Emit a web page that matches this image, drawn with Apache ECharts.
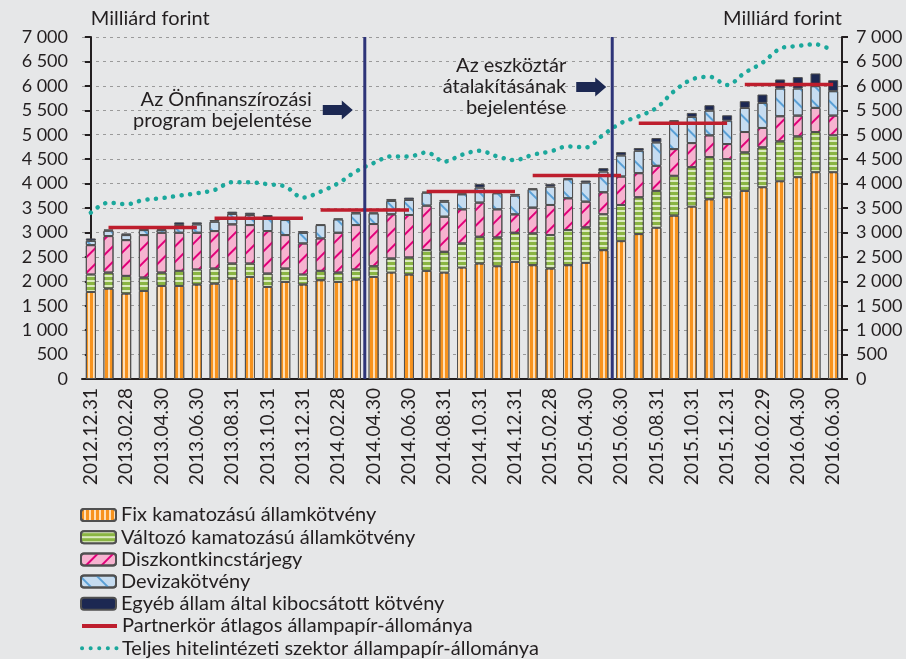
<!DOCTYPE html>
<html><head><meta charset="utf-8">
<script src="https://cdn.jsdelivr.net/npm/echarts@6/dist/echarts.min.js"></script>
<style>html,body{margin:0;padding:0;background:#e6e7e8;} #c{width:906px;height:659px;}</style>
</head><body><div id="c"></div>
<script>
// ---------- DATA ----------
const categories = ['2012.12.31','2013.01.31','2013.02.28','2013.03.31','2013.04.30','2013.05.31','2013.06.30','2013.07.31','2013.08.31','2013.09.30','2013.10.31','2013.11.30','2013.12.31','2014.01.31','2014.02.28','2014.03.31','2014.04.30','2014.05.31','2014.06.30','2014.07.31','2014.08.31','2014.09.30','2014.10.31','2014.11.30','2014.12.31','2015.01.31','2015.02.28','2015.03.31','2015.04.30','2015.05.31','2015.06.30','2015.07.31','2015.08.31','2015.09.30','2015.10.31','2015.11.30','2015.12.31','2016.01.31','2016.02.29','2016.03.31','2016.04.30','2016.05.31','2016.06.30'];
const fixRate    = [1781,1850,1747,1802,1904,1904,1932,1952,2055,2089,1884,1987,1932,2021,1987,2034,2089,2178,2137,2213,2178,2281,2363,2308,2397,2329,2260,2329,2377,2637,2822,2966,3096,3343,3528,3678,3720,3850,3925,4048,4131,4233,4233];
const floatRate  = [356,328,363,274,274,309,308,308,308,274,274,273,205,192,191,206,219,288,350,424,425,493,548,589,596,651,686,719,726,733,740,754,754,815,808,864,780,787,815,816,835,822,754];
const discount   = [603,747,733,870,815,780,753,768,802,788,870,686,637,664,815,911,864,904,870,911,719,699,699,576,377,527,616,651,527,452,582,493,513,548,493,445,309,418,398,514,425,494,404];
const foreignCcy = [89,110,103,102,57,158,172,192,212,206,272,308,219,274,274,240,219,274,308,267,308,308,308,329,384,377,377,390,391,425,432,459,480,569,535,507,479,494,513,568,555,445,500];
const otherState = [48,27,34,28,25,55,41,34,48,47,57,15,35,14,21,27,20,41,48,21,35,21,76,20,34,20,55,21,41,69,68,55,89,20,82,110,110,137,172,185,233,260,226];
const sectorTotal = [3404,3610,3576,3665,3700,3754,3802,3870,4028,4028,3987,3939,3713,3836,4007,4247,4420,4555,4555,4637,4450,4590,4672,4555,4480,4590,4658,4761,4740,5000,5240,5377,5549,5891,6131,6186,6020,6268,6473,6761,6816,6850,6713];
const partnerAvgStart = [1,7,13,19,25,31,37];
const partnerAvgEnd   = [6,12,18,24,30,36,42];
const partnerAvgValue = [3103,3288,3459,3836,4165,5233,6028];
const eventPos = [15.5, 29.5];
const eventLabels = ['Az Önfinanszírozási\nprogram bejelentése', 'Az eszköztár\nátalakításának\nbejelentése'];
const seriesNames = ['Fix kamatozású államkötvény','Változó kamatozású államkötvény','Diszkontkincstárjegy','Devizakötvény','Egyéb állam által kibocsátott kötvény','Partnerkör átlagos állampapír-állománya','Teljes hitelintézeti szektor állampapír-állománya'];
const yMin = 0, yMax = 7000, yStep = 500;
const axisName = 'Milliárd forint';

// ---------- LAYOUT / STYLE ----------
const FONT = 'Lato';
const TXT = '#231f20';
const annotLayout = [
  {textDx:-53, tipDx:-12, yValue:5505},
  {textDx:-46, tipDx:-6, yValue:5976}
];
const legendTop = 505, legendRow = 22.2;
const fmt = v => v >= 1000 ? Math.floor(v/1000) + ' ' + String(v % 1000).padStart(3,'0') : String(v);

const border = {borderColor:'#505050', borderWidth:1};
function barSeries(name, data, color, decal){
  return {name, type:'bar', stack:'total', data, barWidth:10, xAxisIndex:0, yAxisIndex:0,
    itemStyle:Object.assign({color, decal}, border), z:2};
}
function partnerSeries(parity){
  const d = categories.map(()=>null);
  partnerAvgValue.forEach((v,g)=>{ if (g%2===parity){ for(let i=partnerAvgStart[g];i<=partnerAvgEnd[g];i++) d[i]=v; } });
  return {name:seriesNames[5], type:'line', data:d, symbol:'none', showSymbol:false, connectNulls:false,
    lineStyle:{color:'#be1e2d', width:3.5}, itemStyle:{color:'#be1e2d'}, z:6};
}

const series = [
  barSeries(seriesNames[0], fixRate, '#f7931e', {symbol:'rect', symbolSize:1, color:'rgba(255,228,190,0.95)', dashArrayX:[1,0], dashArrayY:[1.2,2.3], rotation:Math.PI/2}),
  barSeries(seriesNames[1], floatRate, '#8ab543', {symbol:'rect', symbolSize:1, color:'#dcebc0', dashArrayX:[1,0], dashArrayY:[1.5,2.5], rotation:0}),
  barSeries(seriesNames[2], discount, '#f6b3d0', {symbol:'rect', symbolSize:1, color:'#e2007a', dashArrayX:[1,0], dashArrayY:[1.5,9], rotation:-Math.PI/4}),
  barSeries(seriesNames[3], foreignCcy, '#c6dcf0', {symbol:'rect', symbolSize:1, color:'#5aa0d6', dashArrayX:[1,0], dashArrayY:[1.2,10], rotation:Math.PI/4}),
  barSeries(seriesNames[4], otherState, '#1c2852', null),
  partnerSeries(0),
  partnerSeries(1),
  {name:seriesNames[6], type:'line', data:sectorTotal, symbol:'none', smooth:0.35,
    lineStyle:{color:'#1ba89c', width:4.5, type:[0.1,8.5], cap:'round'}, itemStyle:{color:'#1ba89c'}, z:5}
];
eventPos.forEach(p=>{
  series.push({type:'line', xAxisIndex:1, yAxisIndex:0, data:[[p,yMin],[p,yMax]], symbol:'none', silent:true,
    lineStyle:{color:'#2e3478', width:3}, z:7});
});

const yAxisBase = {
  type:'value', min:yMin, max:yMax, interval:yStep,
  axisLine:{show:true, lineStyle:{color:TXT, width:2}},
  axisTick:{show:true, length:6, lineStyle:{color:TXT, width:2}},
  axisLabel:{formatter:fmt, fontSize:18, color:TXT, fontFamily:FONT, margin:14},
  name:axisName, nameLocation:'end', nameGap:8
};

const legends = seriesNames.map((n,i)=>({
  data:[ i >= 5 ? {name:n, itemStyle:{opacity:0}, lineStyle:{width:4}} : {name:n} ],
  orient:'vertical', left:80, top:legendTop + legendRow*i, padding:0, itemWidth:35, itemHeight:12, itemGap:0,
  textStyle:{fontSize:20, color:TXT, fontFamily:FONT}, selectedMode:false
}));

const option = {
  animation:false,
  backgroundColor:'#e6e7e8',
  textStyle:{fontFamily:FONT, color:TXT},
  grid:{left:82, right:64, top:37, bottom:280, containLabel:false},
  xAxis:[
    {type:'category', data:categories, boundaryGap:true,
      axisLine:{lineStyle:{color:TXT, width:2}},
      axisTick:{interval:0, length:6, lineStyle:{color:TXT, width:2}},
      axisLabel:{interval:1, rotate:90, fontSize:19, color:TXT, fontFamily:FONT, margin:9},
      splitLine:{show:false}},
    {type:'value', min:-0.5, max:categories.length-0.5, show:false}
  ],
  yAxis:[
    Object.assign({}, yAxisBase, {position:'left',
      nameTextStyle:{align:'left', fontSize:20, color:TXT, fontFamily:FONT},
      splitLine:{show:true, lineStyle:{color:'#9a9a9a', type:[3,4], width:1}}}),
    Object.assign({}, yAxisBase, {position:'right',
      nameTextStyle:{align:'right', fontSize:20, color:TXT, fontFamily:FONT},
      splitLine:{show:false}})
  ],
  legend:legends,
  series
};

const chart = echarts.init(document.getElementById('c'), null, {renderer:'canvas'});
chart.setOption(option);

const gfx = [];
eventPos.forEach((p,k)=>{
  const L = annotLayout[k];
  const x = chart.convertToPixel({xAxisIndex:1}, p);
  const y = chart.convertToPixel({yAxisIndex:0}, L.yValue);
  gfx.push({type:'text', z:100, style:{text:eventLabels[k], x:x+L.textDx, y:y, align:'right', verticalAlign:'middle',
    font:'20px ' + FONT, lineHeight:21, fill:TXT}});
  const tx = x + L.tipDx, ty = y;
  gfx.push({type:'polygon', z:100, shape:{points:[[tx-30,ty-5],[tx-11,ty-5],[tx-11,ty-9.5],[tx,ty],[tx-11,ty+9.5],[tx-11,ty+5],[tx-30,ty+5]]},
    style:{fill:'#1c2852'}});
});
chart.setOption({graphic:gfx});
</script>
</body></html>
